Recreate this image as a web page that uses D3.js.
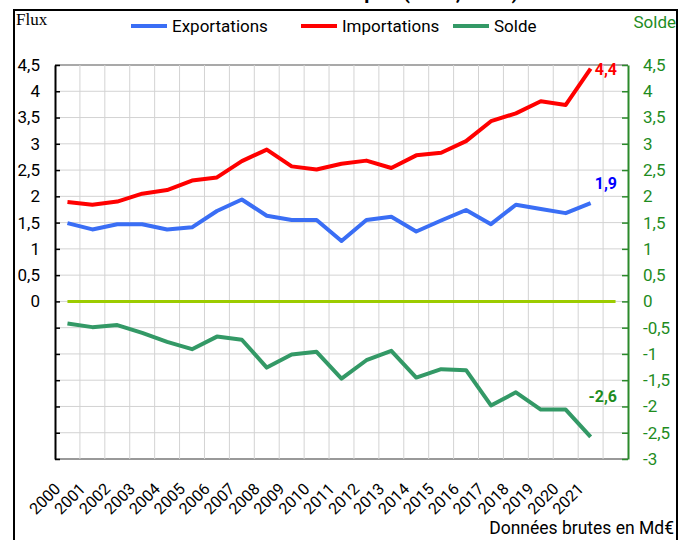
<!DOCTYPE html>
<html>
<head>
  <meta charset="utf-8">
  <title>Exportations, importations et solde</title>
  <style>
    body { margin: 0; background: #fff; }
    svg text { font-family: Roboto, "Liberation Sans", sans-serif; }
  </style>
</head>
<body>
  <div id="chart-container"></div>

  <script src="https://cdnjs.cloudflare.com/ajax/libs/d3/7.8.5/d3.min.js"></script>
  <script>
// Data (Md€)
var years = ["2000", "2001", "2002", "2003", "2004", "2005", "2006", "2007", "2008", "2009", "2010",
             "2011", "2012", "2013", "2014", "2015", "2016", "2017", "2018", "2019", "2020", "2021"];
var exportations = [1.49, 1.37, 1.47, 1.47, 1.37, 1.41, 1.72, 1.94, 1.63, 1.55, 1.55,
                    1.15, 1.55, 1.61, 1.33, 1.54, 1.74, 1.47, 1.84, 1.76, 1.68, 1.87];
var importations = [1.89, 1.84, 1.9, 2.05, 2.12, 2.3, 2.36, 2.67, 2.89, 2.57, 2.51,
                    2.62, 2.68, 2.54, 2.78, 2.83, 3.05, 3.43, 3.58, 3.81, 3.74, 4.43];
var solde = [-0.42, -0.49, -0.45, -0.6, -0.77, -0.91, -0.67, -0.73, -1.26, -1.01, -0.96,
             -1.47, -1.12, -0.94, -1.45, -1.29, -1.31, -1.98, -1.73, -2.06, -2.06, -2.58];
// the zero line runs one slot further than the data
var slots = years.concat(["2022"]);
var zero = slots.map(function() { return 0; });
var yTicks = [-3, -2.5, -2, -1.5, -1, -0.5, 0, 0.5, 1, 1.5, 2, 2.5, 3, 3.5, 4, 4.5];

var comma = function(v) { return String(v).replace(".", ","); };

var svg = d3.select("#chart-container")
  .append("svg")
  .attr("width", 689)
  .attr("height", 540);

// outer frame (goes past the bottom of the picture)
svg.append("rect")
  .attr("x", 14).attr("y", 10)
  .attr("width", 663).attr("height", 560)
  .attr("fill", "none").attr("stroke", "#000").attr("stroke-width", 2);

// title, cut off at the top like in the source
svg.append("text")
  .attr("x", 345).attr("y", -1)
  .attr("text-anchor", "middle")
  .attr("font-size", 20).attr("font-weight", "bold")
  .text("Commerce avec le Japon (2000, 2021)");

var xScale = d3.scaleBand().domain(slots).range([55, 628]);
var yScale = d3.scaleLinear().domain([-3, 4.5]).range([459, 65]);
var cx = function(d, i) { return xScale(slots[i]) + xScale.bandwidth() / 2; };

// grid
svg.append("g").selectAll("line")
  .data(yTicks)
  .enter().append("line")
  .attr("x1", 55).attr("x2", 628)
  .attr("y1", function(d) { return yScale(d); })
  .attr("y2", function(d) { return yScale(d); })
  .attr("stroke", function(d) { return d === 4.5 ? "#8c8c8c" : d === -3 ? "#777" : "#d3d3d3"; })
  .attr("stroke-width", function(d) { return d === 4.5 || d === -3 ? 1.5 : 1; });

svg.append("g").selectAll("line")
  .data(slots.slice(1))
  .enter().append("line")
  .attr("x1", function(d) { return xScale(d); })
  .attr("x2", function(d) { return xScale(d); })
  .attr("y1", 65).attr("y2", 459)
  .attr("stroke", "#d3d3d3");

// left axis (Flux), labels only for positive values
var leftAxis = d3.axisLeft(yScale)
  .tickValues(yTicks)
  .tickSizeInner(-5).tickSizeOuter(0).tickPadding(15)
  .tickFormat(function(d) { return d < 0 ? "" : comma(d); });

var gl = svg.append("g").attr("transform", "translate(55,0)").call(leftAxis);
gl.select(".domain").attr("stroke", "#000").attr("stroke-width", 2);
gl.selectAll(".tick line").attr("stroke", "#000").attr("stroke-width", 1.5);
gl.selectAll("text").attr("font-size", 17).attr("fill", "#000")
  .style("font-family", "Roboto");

// right axis (Solde)
var rightAxis = d3.axisRight(yScale)
  .tickValues(yTicks)
  .tickSizeInner(-6).tickSizeOuter(0).tickPadding(15)
  .tickFormat(comma);

var gr = svg.append("g").attr("transform", "translate(628,0)").call(rightAxis);
gr.select(".domain").attr("stroke", "#2b8a2b").attr("stroke-width", 2);
gr.selectAll(".tick line").attr("stroke", "#2b8a2b").attr("stroke-width", 1.5);
gr.selectAll("text").attr("font-size", 17).attr("fill", "#1e8c1e")
  .style("font-family", "Roboto");

// x labels, rotated
svg.append("g").selectAll("text")
  .data(years)
  .enter().append("text")
  .attr("transform", function(d) {
    return "translate(" + (xScale(d) + xScale.bandwidth() / 2 - 6) + ",490) rotate(-45)";
  })
  .attr("text-anchor", "end")
  .attr("font-size", 16)
  .text(function(d) { return d; });

// lines
var line = d3.line()
  .x(cx)
  .y(function(d) { return yScale(d); });

var series = [
  { values: zero, color: "#9ccc00", width: 3 },
  { values: exportations, color: "#3a6ef5", width: 4 },
  { values: importations, color: "#ff0000", width: 4 },
  { values: solde, color: "#339966", width: 4 }
];

svg.append("g").selectAll("path")
  .data(series)
  .enter().append("path")
  .attr("d", function(d) { return line(d.values); })
  .attr("fill", "none")
  .attr("stroke", function(d) { return d.color; })
  .attr("stroke-width", function(d) { return d.width; })
  .attr("stroke-linejoin", "round");

// last value labels
var last = years.length - 1;
var endLabels = [
  { v: importations[last], color: "#ff0000", dy: 6 },
  { v: exportations[last], color: "#0000ff", dy: -14 },
  { v: solde[last], color: "#1e8c1e", dy: -35 }
];
svg.append("g").selectAll("text")
  .data(endLabels)
  .enter().append("text")
  .attr("x", 617)
  .attr("y", function(d) { return yScale(d.v) + d.dy; })
  .attr("text-anchor", "end")
  .attr("font-size", 16).attr("font-weight", "bold")
  .attr("fill", function(d) { return d.color; })
  .text(function(d) { return comma(Math.round(d.v * 10) / 10); });

// legend
var legendItems = [
  { name: "Exportations", color: "#3a6ef5", x: 131 },
  { name: "Importations", color: "#ff0000", x: 301 },
  { name: "Solde", color: "#339966", x: 453 }
];
var lg = svg.append("g").selectAll("g")
  .data(legendItems)
  .enter().append("g")
  .attr("transform", function(d) { return "translate(" + d.x + ",26)"; });
lg.append("line")
  .attr("x1", 0).attr("x2", 36)
  .attr("stroke", function(d) { return d.color; })
  .attr("stroke-width", 4);
lg.append("text")
  .attr("x", 41).attr("y", 6)
  .attr("font-size", 17)
  .text(function(d) { return d.name; });

// axis titles and note
svg.append("text")
  .attr("x", 16).attr("y", 25)
  .style("font-family", "'Liberation Serif', serif")
  .attr("font-size", 17)
  .text("Flux");

svg.append("text")
  .attr("x", 676).attr("y", 28)
  .attr("text-anchor", "end")
  .attr("font-size", 17)
  .attr("fill", "#1e8c1e")
  .text("Solde");

svg.append("text")
  .attr("x", 674).attr("y", 534)
  .attr("text-anchor", "end")
  .attr("font-size", 17.5)
  .text("Données brutes en Md€");
  </script>
</body>
</html>
